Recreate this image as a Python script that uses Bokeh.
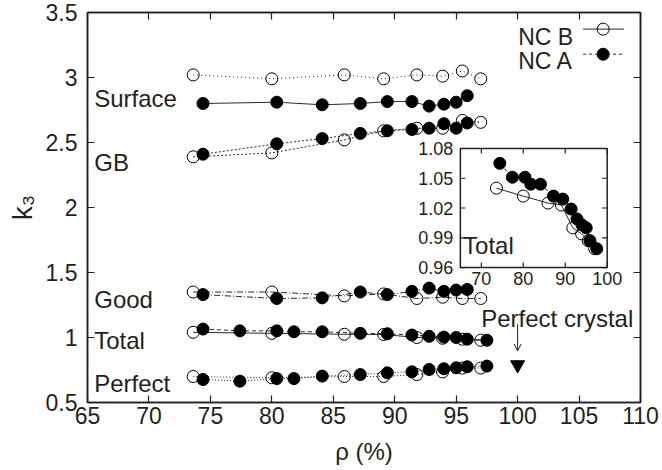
from bokeh.plotting import figure
from bokeh.models import LinearAxis, FixedTicker, Arrow, OpenHead, Range1d
from bokeh.embed import file_html
from bokeh.resources import INLINE
from bokeh.core.properties import value

# ---------------------------------------------------------------- data
# relative density rho (%) of the two nanocrystal samples
rho_b = [73.6, 80.0, 85.9, 89.1, 91.8, 93.9, 95.5, 97.0]
rho_a = [74.4, 77.4, 80.4, 81.8, 84.1, 87.2, 89.4, 91.4, 92.8, 94.0, 95.0, 95.9, 97.5]
rho_a_short = [74.4, 80.4, 84.1, 87.2, 89.4, 91.4, 92.8, 94.0, 95.0, 95.9]

# k3 per atomic environment, NC B
surface_b = [3.02, 2.99, 3.02, 2.99, 3.02, 3.01, 3.05, 2.99]
gb_b = [2.39, 2.42, 2.52, 2.59, 2.61, 2.61, 2.67, 2.655]
good_b = [1.35, 1.35, 1.32, 1.335, 1.30, 1.31, 1.30, 1.30]
total_b = [1.040, 1.032, 1.025, 1.023, 1.000, 0.994, 0.987, 0.979]
perfect_b = [0.70, 0.69, 0.70, 0.70, 0.715, 0.735, 0.765, 0.765]

# k3 per atomic environment, NC A
surface_a = [2.80, 2.81, 2.79, 2.80, 2.815, 2.815, 2.78, 2.795, 2.81, 2.86]
gb_a = [2.41, 2.49, 2.53, 2.57, 2.59, 2.60, 2.61, 2.645, 2.61, 2.65]
good_a = [1.33, 1.30, 1.305, 1.35, 1.33, 1.355, 1.38, 1.355, 1.365, 1.37]
total_a = [1.065, 1.051, 1.051, 1.044, 1.044, 1.032, 1.029, 1.019, 1.009,
           1.003, 1.000, 0.987, 0.979]
perfect_a = [0.677, 0.664, 0.684, 0.684, 0.703, 0.715, 0.728, 0.736, 0.754,
             0.760, 0.767, 0.775, 0.780]

# perfect crystal reference
crystal_rho = [100.0]
crystal_k = [0.79]

# axes
x_ticks = [65, 70, 75, 80, 85, 90, 95, 100, 105, 110]
y_ticks = [0.5, 1.0, 1.5, 2.0, 2.5, 3.0, 3.5]
y_tick_labels = ["0.5", "1", "1.5", "2", "2.5", "3", "3.5"]
inset_x_ticks = [70, 80, 90, 100]
inset_x_tick_labels = ["70", "80", "90", "100"]
inset_y_ticks = [0.96, 0.99, 1.02, 1.05, 1.08]
inset_y_tick_labels = ["0.96", "0.99", "1.02", "1.05", "1.08"]

series_names = ["NC B", "NC A"]
region_names = ["Surface", "GB", "Good", "Total", "Perfect"]

# ---------------------------------------------------------------- style
FONT = "Liberation Sans"
INK = "#231f20"
LINE = "#2a2a2a"
MS = 12


def style_axis(ax, ticks, font_px, tick_len, labels=True, standoff=5, overrides=None):
    ax.ticker = FixedTicker(ticks=ticks)
    ax.major_tick_in = tick_len
    ax.major_tick_out = 0
    ax.minor_tick_in = 0
    ax.minor_tick_out = 0
    ax.axis_line_color = INK
    ax.axis_line_width = 1.5
    ax.major_tick_line_color = INK
    ax.major_tick_line_width = 1.2
    ax.major_label_text_font = FONT
    ax.major_label_text_color = INK
    ax.major_label_standoff = standoff
    if labels:
        ax.major_label_text_font_size = f"{font_px}px"
    else:
        # mirrored ticks only: no tick labels are painted
        ax.major_label_text_font_size = "0px"
        ax.major_label_text_alpha = 0
        ax.major_label_standoff = 0
    if overrides:
        ax.major_label_overrides = overrides


def draw_pair(fig, xb, yb, xa, ya, dash_b, dash_a):
    fig.line(xb, yb, line_color=LINE, line_width=1, line_dash=dash_b)
    fig.scatter(xb, yb, marker="circle", size=MS, fill_color=None,
                line_color="black", line_width=1)
    fig.line(xa, ya, line_color=LINE, line_width=1, line_dash=dash_a)
    fig.scatter(xa, ya, marker="circle", size=MS, fill_color="black",
                line_color="black", line_width=1)


# ---------------------------------------------------------------- main panel
p = figure(width=662, height=470, x_range=(65, 110), y_range=(0.5, 3.5),
           output_backend="svg", toolbar_location=None,
           min_border_left=87, min_border_right=22,
           min_border_top=12, min_border_bottom=68)
p.xgrid.visible = False
p.ygrid.visible = False
p.outline_line_color = INK
p.outline_line_width = 1.5
p.background_fill_color = "white"
p.border_fill_color = "white"

style_axis(p.xaxis[0], x_ticks, 23, 7, standoff=4)
style_axis(p.yaxis[0], y_ticks, 23, 7, standoff=10,
           overrides={t: s for t, s in zip(y_ticks, y_tick_labels)})
p.xaxis[0].axis_label = "\u03c1 (%)"
p.yaxis[0].axis_label = "k\u2083"
for ax in (p.xaxis[0], p.yaxis[0]):
    ax.axis_label_text_font = FONT
    ax.axis_label_text_font_size = "24px"
    ax.axis_label_text_font_style = "normal"
    ax.axis_label_text_color = INK
p.xaxis[0].axis_label_standoff = 11
p.yaxis[0].axis_label_standoff = 5
p.yaxis[0].axis_label_text_font_size = "28px"

top_ax = LinearAxis()
style_axis(top_ax, x_ticks, 0, 7, labels=False)
p.add_layout(top_ax, "above")
right_ax = LinearAxis()
style_axis(right_ax, y_ticks, 0, 7, labels=False)
p.add_layout(right_ax, "right")

# series
draw_pair(p, rho_b, surface_b, rho_a_short, surface_a, "1 3", "solid")
draw_pair(p, rho_b, gb_b, rho_a_short, gb_a, "2 2", "2 2")
draw_pair(p, rho_b, good_b, rho_a_short, good_a, "6 2 1 2", "6 2 1 2")
draw_pair(p, rho_b, total_b, rho_a, total_a, "solid", "4 3")
draw_pair(p, rho_b, perfect_b, rho_a, perfect_a, "1 2", "1 2")

p.scatter(crystal_rho, crystal_k, marker="inverted_triangle", size=14,
          fill_color="black", line_color="black")

# region labels
label_x = [65.55] * 5
label_y = [2.838, 2.346, 1.295, 0.980, 0.643]
p.text(x=label_x, y=label_y, text=region_names, text_font=value(FONT),
       text_font_size="24px", text_color=INK, text_align="left",
       text_baseline="alphabetic")

p.text(x=[97.04], y=[1.146], text=["Perfect crystal"], text_font=value(FONT),
       text_font_size="24px", text_color=INK, text_align="left",
       text_baseline="alphabetic")
p.add_layout(Arrow(end=OpenHead(size=7, line_width=1, line_color=INK),
                   x_start=100, y_start=1.102, x_end=100, y_end=0.897,
                   line_width=1, line_color=INK))

# legend (text first, then line sample)
leg_y = [3.308, 3.128]
p.text(x=[104.52, 104.52], y=leg_y, text=series_names, text_font=value(FONT),
       text_font_size="23px", text_color=INK, text_align="right",
       text_baseline="alphabetic")
key_y = [3.372, 3.179]
p.line([105.33, 108.67], [key_y[0]] * 2, line_color=LINE, line_width=1)
p.scatter([106.96], [key_y[0]], marker="circle", size=MS, fill_color=None,
          line_color="black")
p.line([105.33, 108.67], [key_y[1]] * 2, line_color=LINE, line_width=1,
       line_dash="3 3")
p.scatter([106.96], [key_y[1]], marker="circle", size=MS, fill_color="black",
          line_color="black")

# ---------------------------------------------------------------- inset
# an inner coordinate system (rho 65..100, k3 0.96..1.08) mapped onto a box
# of the main panel
IX0, IX1, IY0, IY1 = 65, 100, 0.96, 1.08
ins = p.subplot(x_source=Range1d(IX0, IX1), y_source=Range1d(IY0, IY1),
                x_target=Range1d(95.34, 107.29), y_target=Range1d(1.538, 2.454))

# one screen pixel expressed in inset units
px_x = (IX1 - IX0) / 147.0
px_y = (IY1 - IY0) / 119.0

ins.quad(left=[IX0], right=[IX1], bottom=[IY0], top=[IY1],
         fill_color="white", line_color=INK, line_width=1.5)
tick_len = 5
ins.segment(x0=inset_x_ticks, y0=[IY0] * 4, x1=inset_x_ticks,
            y1=[IY0 + tick_len * px_y] * 4, line_color=INK, line_width=1.2)
ins.segment(x0=inset_x_ticks, y0=[IY1] * 4, x1=inset_x_ticks,
            y1=[IY1 - tick_len * px_y] * 4, line_color=INK, line_width=1.2)
ins.segment(x0=[IX0] * 5, y0=inset_y_ticks, x1=[IX0 + tick_len * px_x] * 5,
            y1=inset_y_ticks, line_color=INK, line_width=1.2)
ins.segment(x0=[IX1] * 5, y0=inset_y_ticks, x1=[IX1 - tick_len * px_x] * 5,
            y1=inset_y_ticks, line_color=INK, line_width=1.2)
ins.text(x=inset_x_ticks, y=[IY0 - 4 * px_y] * 4, text=inset_x_tick_labels,
         text_font=value(FONT), text_font_size="18px", text_color=INK,
         text_align="center", text_baseline="top")
ins.text(x=[IX0 - 7 * px_x] * 5, y=inset_y_ticks, text=inset_y_tick_labels,
         text_font=value(FONT), text_font_size="18px", text_color=INK,
         text_align="right", text_baseline="middle")

draw_pair(ins, rho_b, total_b, rho_a, total_a, "solid", "4 3")
ins.text(x=[65.64], y=[0.982], text=["Total"], text_font=value(FONT),
         text_font_size="24px", text_color=INK, text_align="left",
         text_baseline="alphabetic")

open("out.html", "w").write(file_html(p, INLINE))
